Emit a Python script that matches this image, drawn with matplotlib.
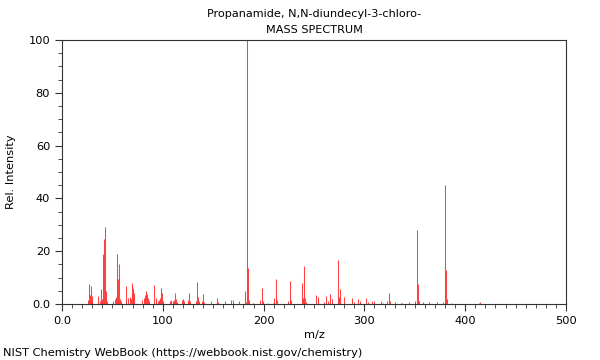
import matplotlib
matplotlib.use("Agg")
import matplotlib.pyplot as plt
from matplotlib.ticker import MultipleLocator, FixedLocator

title_line1 = "Propanamide, N,N-diundecyl-3-chloro-"
title_line2 = "MASS SPECTRUM"
footer = "NIST Chemistry WebBook (https://webbook.nist.gov/chemistry)"

mz = [26, 27, 28, 29, 30, 36, 38, 39, 40, 41, 42, 43, 44, 45,
      51, 53, 54, 55, 56, 57, 58, 59, 63, 65, 67, 68, 69, 70, 71,
      79, 81, 82, 83, 84, 85, 86, 91, 93, 95, 96, 97, 98, 99, 100,
      107, 108, 110, 111, 112, 113, 114, 119, 120, 121, 125, 126, 127,
      133, 134, 135, 136, 139, 140, 141, 148, 154, 155, 162, 168, 170,
      176, 182, 183, 184, 185, 186, 189, 196, 198, 199, 203, 209, 210,
      212, 213, 224, 226, 227, 238, 239, 240, 241, 242,
      252, 254, 260, 262, 264, 266, 268, 274, 275, 276, 280, 288, 290,
      294, 296, 302, 304, 308, 310, 316, 318, 322, 324, 325, 330, 336,
      337, 344, 350, 352, 353, 354, 358, 364, 372, 378, 380, 381, 382,
      386, 414, 415]
intensity = [1.5, 7.5, 3.5, 7.0, 3.0, 3.2, 1.2, 5.5, 2.0, 19.0, 24.5, 29.0, 5.0, 1.0,
             1.0, 2.0, 2.5, 19.0, 9.5, 15.0, 2.0, 1.0, 6.8, 2.2, 2.8, 2.0, 8.0, 6.0, 4.0,
             1.5, 2.3, 3.5, 4.8, 3.8, 2.2, 1.0, 7.2, 2.2, 1.0, 1.5, 2.2, 6.0, 4.0, 1.2,
             1.0, 1.5, 1.0, 1.5, 4.0, 2.0, 0.8, 1.5, 2.0, 1.0, 1.5, 4.3, 1.2,
             1.0, 8.5, 2.7, 1.0, 1.0, 3.8, 0.8, 1.0, 2.3, 0.6, 1.1, 1.7, 1.7,
             1.3, 5.0, 0.8, 100.0, 13.5, 1.5, 0.5, 1.4, 6.0, 1.0, 0.4, 0.5, 2.4,
             9.4, 1.5, 1.0, 8.7, 1.5, 8.0, 2.3, 14.4, 2.3, 0.8,
             3.4, 2.7, 0.7, 3.1, 1.0, 3.8, 1.9, 16.7, 2.6, 5.6, 2.5, 2.1, 0.6,
             1.9, 1.0, 2.3, 0.6, 1.0, 1.0, 1.3, 0.5, 1.2, 4.3, 1.1, 0.7, 0.5,
             0.5, 0.9, 1.1, 28.0, 7.5, 1.2, 0.8, 0.6, 0.6, 0.8, 45.0, 13.0, 1.9,
             0.5, 0.4, 0.6]

x_ticks = [0, 100, 200, 300, 400, 500]
x_tick_labels = ["0.0", "100", "200", "300", "400", "500"]
y_ticks = [0, 20, 40, 60, 80, 100]
y_tick_labels = ["0.0", "20", "40", "60", "80", "100"]

plt.rcParams['font.family'] = ['DejaVu Sans']
fig = plt.figure(figsize=(6, 3.6), dpi=100)
ax = fig.add_axes([62/600, 1-304/360, 504/600, 264/360])

ax.vlines(mz, 0, intensity, colors='#ff2020', linewidth=0.75, alpha=0.85)

ax.set_xlim(0, 500)
ax.set_ylim(0, 100)
ax.xaxis.set_major_locator(FixedLocator(x_ticks))
ax.set_xticklabels(x_tick_labels)
ax.yaxis.set_major_locator(FixedLocator(y_ticks))
ax.set_yticklabels(y_tick_labels)
ax.xaxis.set_minor_locator(MultipleLocator(10))
ax.yaxis.set_minor_locator(MultipleLocator(5))
ax.tick_params(axis='both', which='major', length=5, width=0.8, labelsize=8.2, direction='out', color='#333333')
ax.tick_params(axis='both', which='minor', length=3, width=0.6, direction='out', color='#333333')
for s in ax.spines.values():
    s.set_linewidth(0.8)
    s.set_color('#333333')

ax.set_xlabel("m/z", fontsize=8.2, labelpad=3)
ax.set_ylabel("Rel. Intensity", fontsize=8.2, labelpad=9)

fig.text(314/600, 1-14/360, title_line1, ha='center', va='center', fontsize=8.1)
fig.text(314/600, 1-30/360, title_line2, ha='center', va='center', fontsize=8.1)
fig.text(3/600, 1-353/360, footer, ha='left', va='center', fontsize=8.2)

fig.savefig("out.png", dpi=100)
